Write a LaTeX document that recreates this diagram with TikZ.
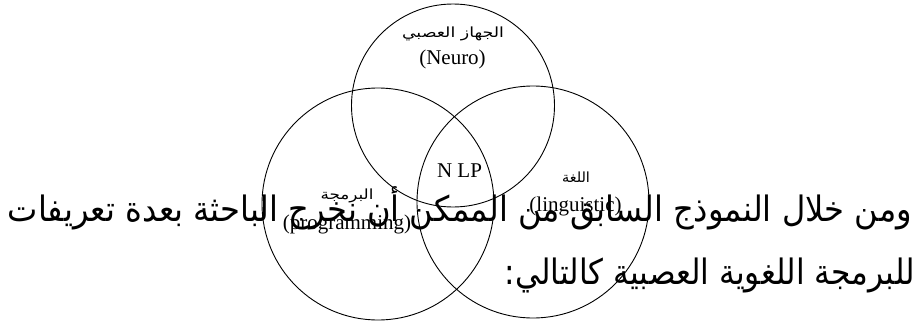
\documentclass[tikz,border=0pt]{standalone}
\usepackage{fontspec}
\usepackage{graphicx}
\setmainfont{Liberation Serif}
\newfontfamily\arabicfont[Script=Arabic]{DejaVu Sans}
\TeXXeTstate=1
\tikzset{
  venn/.style={circle, draw, line width=0.9pt, inner sep=0pt},
  lat/.style={font=\fontsize{21}{24}\selectfont, inner sep=0pt, anchor=base},
  arlab/.style={inner sep=0pt, anchor=base},
  maintext/.style={inner sep=0pt, anchor=base east}
}
\begin{document}
\begin{tikzpicture}[x=1pt,y=-1pt]
\useasboundingbox (0,0) rectangle (921,322);
% main paragraph text
\node[maintext] (line1) at (912,221) {\resizebox{904pt}{\height}{\fontsize{35}{40}\arabicfont\beginR ومن خلال النموذج السابق من الممكن أن نخرج الباحثة بعدة تعريفات\endR}};
\node[maintext] (line2) at (915,284) {\resizebox{410pt}{\height}{\fontsize{35}{40}\arabicfont\beginR للبرمجة اللغوية العصبية كالتالي:\endR}};
% circles
\node[venn, minimum size=203pt] (neuro) at (453,105.5) {};
\node[venn, minimum size=232pt] (prog) at (378,204) {};
\node[venn, minimum size=232pt] (ling) at (533,202) {};
% labels
\node[arlab] (neuroAr) at (453,37) {\resizebox{102pt}{\height}{\fontsize{14}{16}\arabicfont\beginR الجهاز العصبي\endR}};
\node[lat] (neuroEn) at (452.5,64) {(Neuro)};
\node[lat] (nlp) at (459.5,177) {N LP};
\node[arlab] (lingAr) at (576,182) {\resizebox{28pt}{\height}{\fontsize{14}{16}\arabicfont\beginR اللغة\endR}};
\node[lat] (lingEn) at (575.5,211) {(linguistic)};
\node[arlab] (progAr) at (347,199) {\resizebox{53pt}{\height}{\fontsize{14}{16}\arabicfont\beginR البرمجة\endR}};
\node[lat] (progEn) at (347,229) {(programming)};
\end{tikzpicture}
\end{document}
